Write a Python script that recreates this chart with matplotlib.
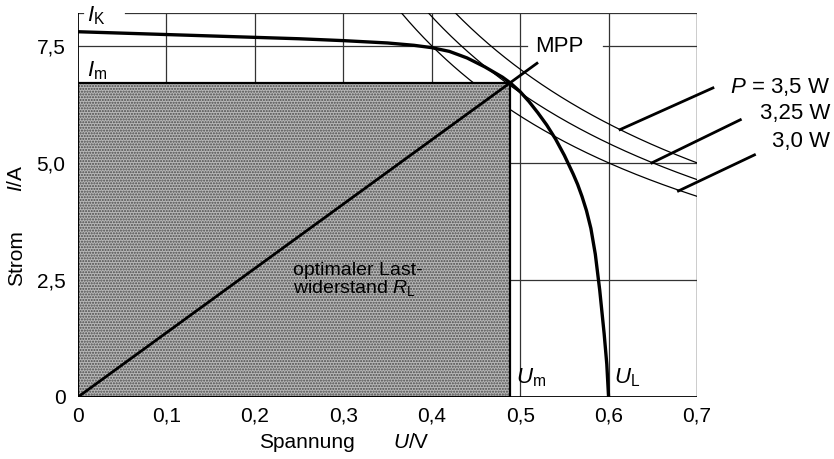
import numpy as np
import matplotlib.pyplot as plt
from matplotlib.patches import Rectangle

plt.rcParams['font.family'] = ['Liberation Sans', 'DejaVu Sans']
plt.rcParams['mathtext.fontset'] = 'custom'
plt.rcParams['mathtext.rm'] = 'Liberation Sans'
plt.rcParams['mathtext.it'] = 'Liberation Sans:italic'

# Kennlinie der Solarzelle
spannung = [0, 0.1, 0.2, 0.25, 0.3, 0.35, 0.38, 0.40, 0.42, 0.44, 0.46,
            0.48, 0.4887, 0.50, 0.51, 0.52, 0.53, 0.54, 0.55, 0.56, 0.565,
            0.57, 0.575, 0.58, 0.585, 0.59, 0.595, 0.598, 0.6]
strom = [7.80, 7.74, 7.68, 7.65, 7.61, 7.56, 7.51, 7.46, 7.38, 7.24, 7.05,
         6.83, 6.71, 6.52, 6.31, 6.07, 5.81, 5.51, 5.16, 4.76, 4.54,
         4.28, 3.98, 3.60, 3.05, 2.28, 1.35, 0.70, 0]

# Punkt maximaler Leistung
u_m = 0.4887
i_m = 6.71

# Leistungshyperbeln
leistungen = [3.5, 3.25, 3.0]
leistung_texte = ['$P$ = 3,5 W', '3,25 W', '3,0 W']

x_ticks = [0, 0.1, 0.2, 0.3, 0.4, 0.5, 0.6, 0.7]
x_labels = ['0', '0,1', '0,2', '0,3', '0,4', '0,5', '0,6', '0,7']
y_ticks = [0, 2.5, 5.0, 7.5]
y_labels = ['0', '2,5', '5,0', '7,5']

x_max = 0.7
y_max = 8.2

fig = plt.figure(figsize=(8.34, 4.59), dpi=100)
ax = fig.add_axes([78 / 834, 62 / 459, 619 / 834, 384 / 459])
ax.set_xlim(0, x_max)
ax.set_ylim(0, y_max)
for s in ['top', 'right', 'left', 'bottom']:
    ax.spines[s].set_visible(False)

fs = 15
ax.set_xticks(x_ticks)
ax.set_xticklabels(x_labels, fontsize=fs)
ax.set_yticks(y_ticks)
ax.set_yticklabels(y_labels, fontsize=fs)
ax.tick_params(length=0)
ax.tick_params(axis='x', pad=7)
ax.tick_params(axis='y', pad=9)

# Rahmen und Gitter
gk = dict(color='#333333', lw=0.9, zorder=1)
for x in x_ticks[1:-1]:
    ax.plot([x, x], [0, y_max], **gk)
ax.plot([0, 0], [0, y_max], color='black', lw=1.3, zorder=6)
ax.plot([0, x_max], [0, 0], color='black', lw=1.3, zorder=6)
ax.plot([x_max, x_max], [0, y_max], color='black', lw=1.0, zorder=1)
ax.plot([0, 0.006], [y_max, y_max], **gk)
ax.plot([0.053, x_max], [y_max, y_max], **gk)
for y in [2.5, 5.0]:
    ax.plot([0, x_max], [y, y], **gk)
ax.plot([0, 0.508], [7.5, 7.5], **gk)
ax.plot([0.594, x_max], [7.5, 7.5], **gk)

# Leistungshyperbeln P = U * I
for p in leistungen:
    u = np.linspace(p / y_max, x_max, 200)
    ax.plot(u, p / u, color='black', lw=0.9, zorder=2)

# Leistungsflaeche
ax.add_patch(Rectangle((0, 0), u_m, i_m, facecolor='#b8b8b8',
                       edgecolor='#4a4a4a', hatch='......', lw=0, zorder=3))
ax.add_patch(Rectangle((0, 0), u_m, i_m, facecolor='none',
                       edgecolor='black', lw=1.6, zorder=5))

# Kennlinie
ax.plot(spannung, strom, color='black', lw=2.4, zorder=6,
        solid_joinstyle='round')

# Lastgerade durch MPP (verlaengert als Hinweislinie)
u_end = 0.519
ax.plot([0, u_end], [0, u_end * i_m / u_m], color='black', lw=2.0, zorder=6)

# Hinweislinien zu den Leistungen
hinweise = [((0.613, 5.71), (0.718, 6.60)),
            ((0.649, 5.00), (0.749, 5.92)),
            ((0.679, 4.40), (0.765, 5.17))]
for (a, b) in hinweise:
    ax.plot([a[0], b[0]], [a[1], b[1]], color='black', lw=2.0, zorder=6,
            clip_on=False)

for txt, yp in zip(leistung_texte, [87, 113, 142]):
    fig.text(830 / 834, 1 - yp / 459, txt, ha='right', va='center',
             fontsize=fs + 1)

fig.text(559 / 834, 1 - 47 / 459, 'MPP', ha='center', va='center',
         fontsize=fs + 1)
fig.text(87 / 834, 1 - 16 / 459, '$I_\\mathrm{K}$', ha='left',
         va='center', fontsize=fs + 1)
fig.text(87 / 834, 1 - 71 / 459, '$I_\\mathrm{m}$', ha='left',
         va='center', fontsize=fs + 1)
fig.text(516 / 834, 1 - 378 / 459, '$U_\\mathrm{m}$', ha='left',
         va='center', fontsize=fs + 1)
fig.text(614 / 834, 1 - 378 / 459, '$U_\\mathrm{L}$', ha='left',
         va='center', fontsize=fs + 1)
fig.text(293 / 834, 1 - 280 / 459, 'optimaler Last-\nwiderstand $R_\\mathrm{L}$',
         ha='left', va='center', fontsize=fs - 1, linespacing=0.95, zorder=7)

# Achsenbeschriftungen
fig.text(17 / 834, 1 - 258 / 459, 'Strom', rotation=90, ha='center',
         va='center', fontsize=fs)
fig.text(17 / 834, 1 - 178 / 459, '$I$/A', rotation=90, ha='center',
         va='center', fontsize=fs)
fig.text(307 / 834, 1 - 443 / 459, 'Spannung', ha='center', va='center',
         fontsize=fs)
fig.text(393 / 834, 1 - 443 / 459, '$U$/V', ha='left', va='center',
         fontsize=fs)

fig.savefig('out.png', dpi=100)
